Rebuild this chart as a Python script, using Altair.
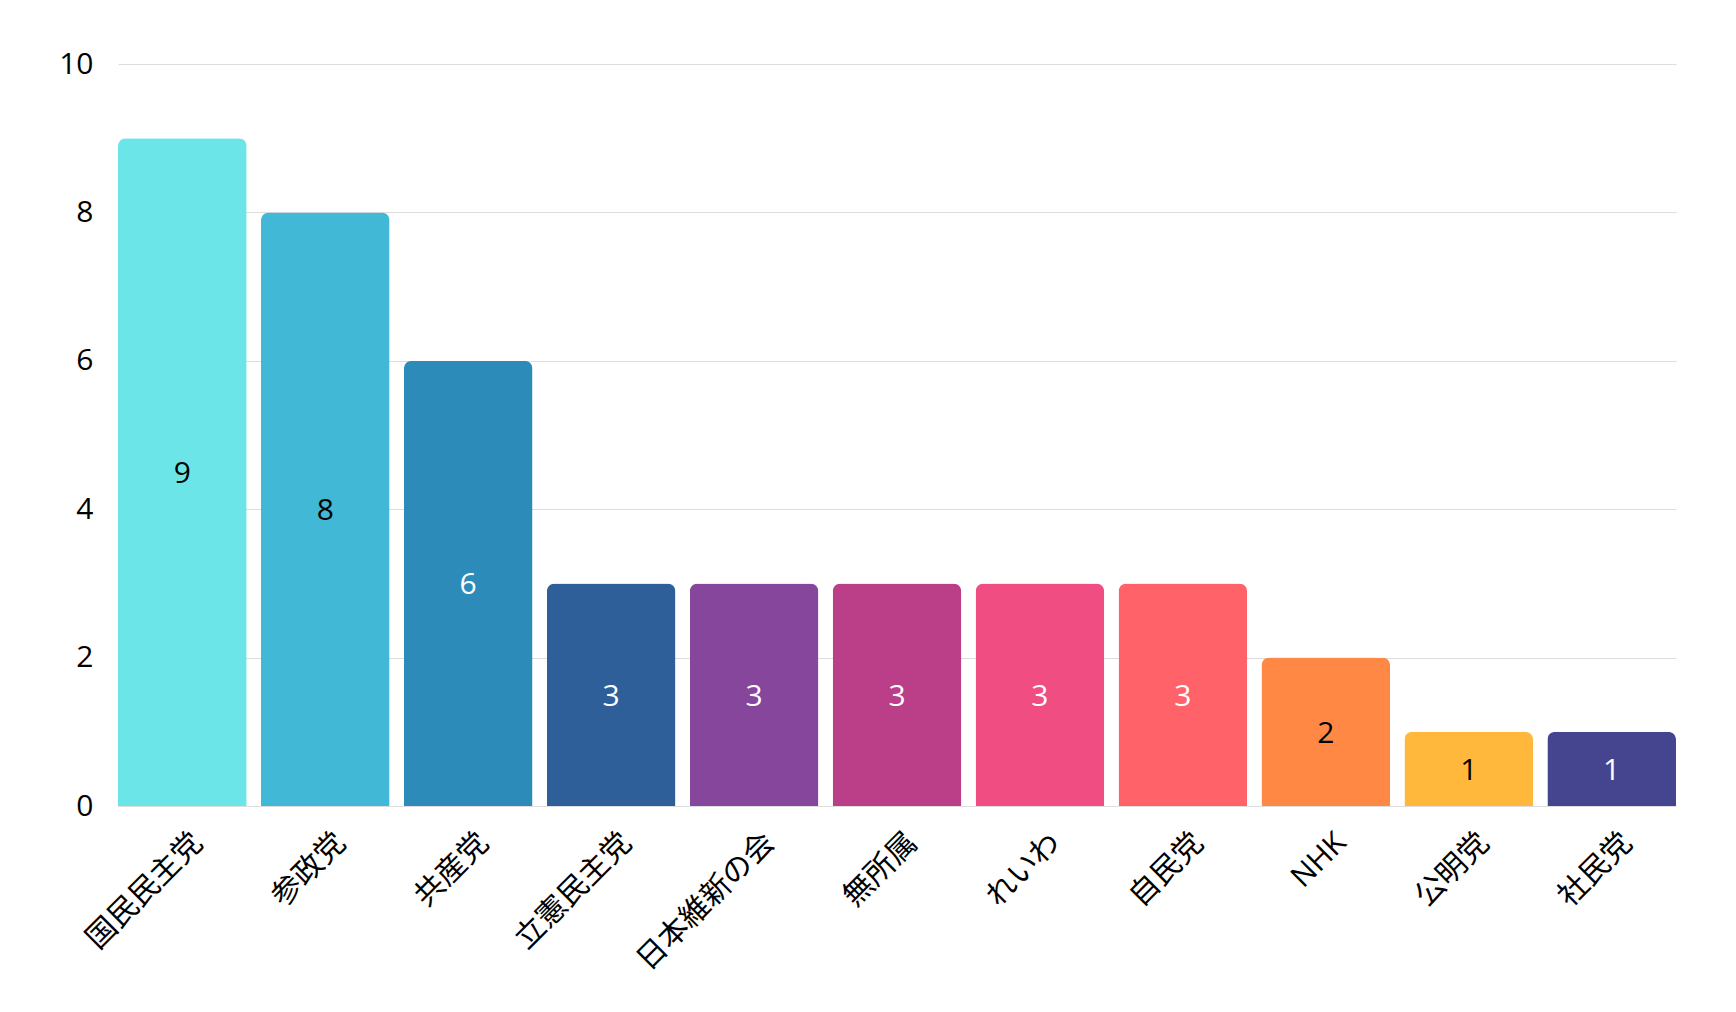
import altair as alt
import pandas as pd

parties = ["国民民主党", "参政党", "共産党", "立憲民主党", "日本維新の会", "無所属",
           "れいわ", "自民党", "NHK", "公明党", "社民党"]
seats = [9, 8, 6, 3, 3, 3, 3, 3, 2, 1, 1]
bar_colors = ["#6CE5E8", "#41B8D5", "#2D8BBA", "#2F5F98", "#86469C", "#BB3E89",
              "#F04D82", "#FF6369", "#FF8845", "#FFB83C", "#45458F"]
text_colors = ["#000000", "#000000", "#ffffff", "#ffffff", "#ffffff", "#ffffff",
               "#ffffff", "#ffffff", "#000000", "#000000", "#ffffff"]
y_ticks = [0, 2, 4, 6, 8, 10]

df = pd.DataFrame({"party": parties, "seats": seats, "tc": text_colors})

FONT = "Open Sans, Noto Sans CJK JP, sans-serif"

base = alt.Chart(df).encode(
    x=alt.X("party:N", sort=parties,
            scale=alt.Scale(paddingInner=0.1, paddingOuter=0),
            axis=alt.Axis(title=None, labelAngle=315, ticks=False, tickSize=0,
                          domain=False, labelFont=FONT, labelFontSize=30,
                          labelFontWeight=400,
                          labelColor="#000000", labelPadding=21, labelOffset=5))
)

bars = base.mark_bar(cornerRadiusTopLeft=8, cornerRadiusTopRight=8).encode(
    y=alt.Y("seats:Q", scale=alt.Scale(domain=[0, 10]),
            axis=alt.Axis(title=None, values=y_ticks, format="d", grid=True,
                          gridColor="#dddddd", gridWidth=1, domain=False,
                          ticks=False, tickSize=0, labelFont=FONT,
                          labelFontSize=30, labelFontWeight=400,
                          labelColor="#000000", labelPadding=25)),
    color=alt.Color("party:N", scale=alt.Scale(domain=parties, range=bar_colors),
                    legend=None),
)

text = base.transform_calculate(mid="datum.seats / 2").mark_text(
    font=FONT, fontSize=30, fontWeight=400, baseline="middle", align="center", dy=2
).encode(
    y=alt.Y("mid:Q"),
    text=alt.Text("seats:Q"),
    color=alt.Color("tc:N", scale=None),
)

chart = alt.layer(bars, text).properties(
    width=1558, height=742,
    autosize=alt.AutoSizeParams(type="none"),
    padding={"left": 110, "top": 56, "right": 40, "bottom": 190},
).configure_view(stroke=None)

chart.save("out.html", embed_options={"renderer": "svg", "actions": False})
